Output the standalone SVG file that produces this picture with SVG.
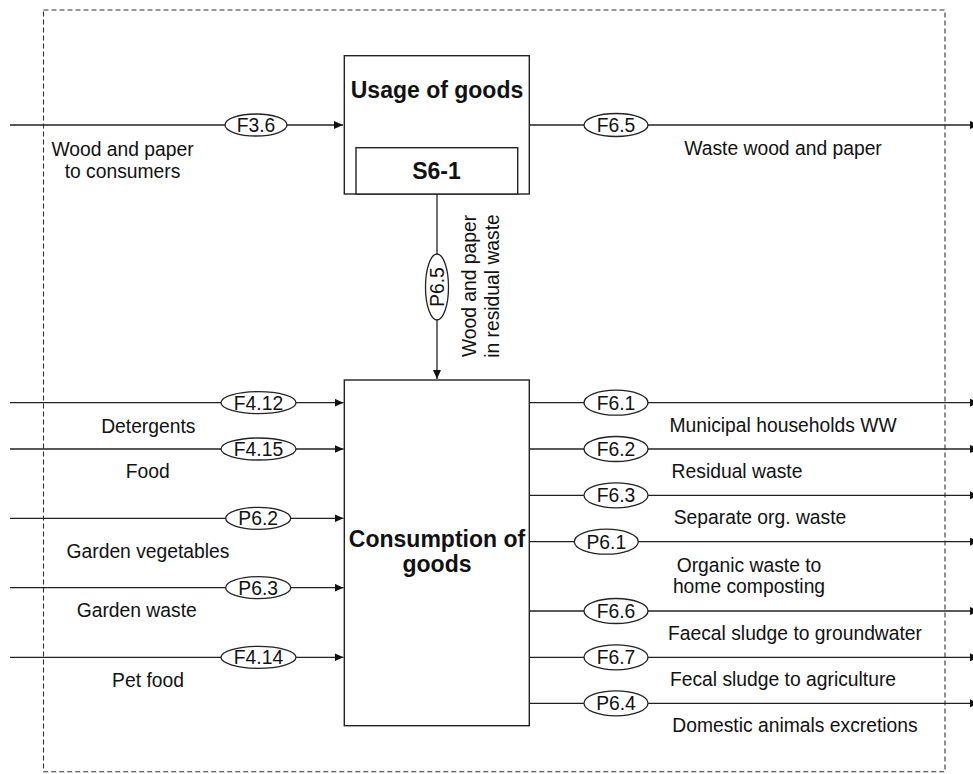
<svg xmlns="http://www.w3.org/2000/svg" width="973" height="774" viewBox="0 0 973 774">
<defs>
<marker id="arr" markerUnits="userSpaceOnUse" markerWidth="10" markerHeight="9" refX="9" refY="4" orient="auto">
<path d="M0,0 L9,4 L0,8 z" fill="#111"/>
</marker>
</defs>
<style>
.t{font-family:"Liberation Sans",Arial,sans-serif;font-size:19.3px;fill:#111}
.c{text-anchor:middle}
.b{font-family:"Liberation Sans",Arial,sans-serif;font-weight:bold;font-size:23px;fill:#111;text-anchor:middle}
.box{fill:#fff;stroke:#222;stroke-width:1.4}
.ln{stroke:#222;stroke-width:1.3;fill:none}
.el{fill:#fff;stroke:#222;stroke-width:1.3}
.dash{fill:none;stroke:#333;stroke-width:1.1;stroke-dasharray:5 3}
</style>
<rect x="0" y="0" width="973" height="774" fill="#fff"/>
<rect class="dash" x="43.5" y="10" width="901.5" height="761.7"/>

<g id="connectors">
<path class="ln" d="M10,125 H343" marker-end="url(#arr)"/>
<path class="ln" d="M529,125 H979" marker-end="url(#arr)"/>
<path class="ln" d="M437,194 V379" marker-end="url(#arr)"/>
<path class="ln" d="M10,402.7 H343.5" marker-end="url(#arr)"/>
<path class="ln" d="M10,449 H343.5" marker-end="url(#arr)"/>
<path class="ln" d="M10,518.3 H343.5" marker-end="url(#arr)"/>
<path class="ln" d="M10,587.7 H343.5" marker-end="url(#arr)"/>
<path class="ln" d="M10,657.3 H343.5" marker-end="url(#arr)"/>
<path class="ln" d="M529,402.7 H979" marker-end="url(#arr)"/>
<path class="ln" d="M529,449 H979" marker-end="url(#arr)"/>
<path class="ln" d="M529,495.3 H979" marker-end="url(#arr)"/>
<path class="ln" d="M529,541.7 H979" marker-end="url(#arr)"/>
<path class="ln" d="M529,611 H979" marker-end="url(#arr)"/>
<path class="ln" d="M529,657.3 H979" marker-end="url(#arr)"/>
<path class="ln" d="M529,703.3 H979" marker-end="url(#arr)"/>

<g id="F3.6"><ellipse class="el" cx="256" cy="125" rx="31" ry="11"/><text class="t c" x="256" y="132">F3.6</text>
<text class="t c" x="122.5" y="156">Wood and paper</text><text class="t c" x="122.5" y="178">to consumers</text></g>
<g id="F6.5"><ellipse class="el" cx="616" cy="125" rx="32" ry="11.5"/><text class="t c" x="616" y="132">F6.5</text>
<text class="t c" x="783" y="155">Waste wood and paper</text></g>
<g id="P6.5"><ellipse class="el" cx="437" cy="287" rx="11.5" ry="33"/><text class="t c" transform="translate(444,287) rotate(-90)">P6.5</text>
<text class="t c" transform="translate(476,286) rotate(-90)">Wood and paper</text>
<text class="t c" transform="translate(499,286) rotate(-90)">in residual waste</text></g>

<g id="F4.12"><ellipse class="el" cx="258.5" cy="402.7" rx="37.5" ry="11"/><text class="t c" x="258.5" y="409.7">F4.12</text><text class="t c" x="148.3" y="432.7">Detergents</text></g>
<g id="F4.15"><ellipse class="el" cx="258.5" cy="449" rx="37.5" ry="11"/><text class="t c" x="258.5" y="456">F4.15</text><text class="t c" x="147.7" y="478.3">Food</text></g>
<g id="P6.2"><ellipse class="el" cx="258.2" cy="518.3" rx="32.5" ry="11"/><text class="t c" x="258.2" y="525.3">P6.2</text><text class="t c" x="148" y="558">Garden vegetables</text></g>
<g id="P6.3"><ellipse class="el" cx="258.2" cy="587.7" rx="32.5" ry="11"/><text class="t c" x="258.2" y="594.7">P6.3</text><text class="t c" x="136.7" y="617">Garden waste</text></g>
<g id="F4.14"><ellipse class="el" cx="258.5" cy="657.3" rx="37.5" ry="11"/><text class="t c" x="258.5" y="664.3">F4.14</text><text class="t c" x="148" y="686.7">Pet food</text></g>

<g id="F6.1"><ellipse class="el" cx="616" cy="402.7" rx="32" ry="12.5"/><text class="t c" x="616" y="409.5">F6.1</text><text class="t c" x="783" y="431.7">Municipal households WW</text></g>
<g id="F6.2"><ellipse class="el" cx="616" cy="449" rx="32" ry="12.5"/><text class="t c" x="616" y="455.8">F6.2</text><text class="t c" x="737" y="478.3">Residual waste</text></g>
<g id="F6.3"><ellipse class="el" cx="616" cy="495.3" rx="32" ry="12.5"/><text class="t c" x="616" y="502.1">F6.3</text><text class="t c" x="760" y="524.3">Separate org. waste</text></g>
<g id="P6.1"><ellipse class="el" cx="606.3" cy="541.7" rx="32" ry="12.5"/><text class="t c" x="606.3" y="548.5">P6.1</text><text class="t c" x="749" y="571.5">Organic waste to</text><text class="t c" x="749" y="593.3">home composting</text></g>
<g id="F6.6"><ellipse class="el" cx="616" cy="611" rx="32" ry="12.5"/><text class="t c" x="616" y="617.8">F6.6</text><text class="t c" x="795" y="640">Faecal sludge to groundwater</text></g>
<g id="F6.7"><ellipse class="el" cx="616" cy="657.3" rx="32" ry="12.5"/><text class="t c" x="616" y="664.1">F6.7</text><text class="t c" x="783" y="686">Fecal sludge to agriculture</text></g>
<g id="P6.4"><ellipse class="el" cx="616" cy="703.3" rx="32" ry="12.5"/><text class="t c" x="616" y="710.1">P6.4</text><text class="t c" x="795" y="731.7">Domestic animals excretions</text></g>
</g>

<g id="usage">
<rect class="box" x="344.3" y="55.7" width="185" height="138.3"/>
<text class="b" x="437" y="98.3">Usage of goods</text>
<rect class="box" x="356" y="147.7" width="161.7" height="46.3"/>
<text class="b" x="436.5" y="179.3">S6-1</text>
</g>

<g id="consumption">
<rect class="box" x="344.3" y="380" width="185" height="345.7"/>
<text class="b" x="437" y="546.7">Consumption of</text>
<text class="b" x="437" y="572.3">goods</text>
</g>
</svg>
